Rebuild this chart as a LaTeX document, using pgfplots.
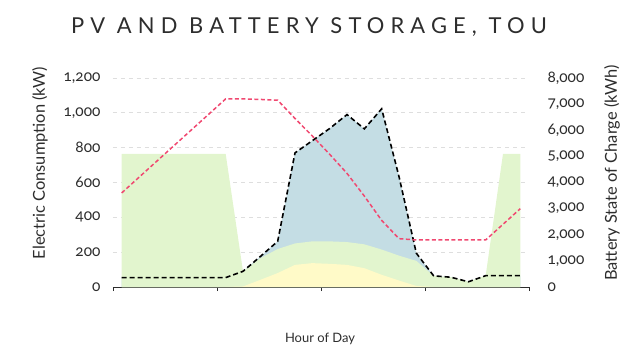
\documentclass[border=0pt]{standalone}
\usepackage{fontspec}
\setmainfont{Lato}[Numbers=OldStyle]
\newfontfamily\titlefont[LetterSpace=28]{Lato}
\usepackage{pgfplots}
\usepackage{pgfplotstable}
\pgfplotsset{compat=1.18}
\definecolor{cgreen}{RGB}{226,245,206}
\definecolor{cblue}{RGB}{196,221,228}
\definecolor{cyellow}{RGB}{255,250,200}
\definecolor{cred}{RGB}{240,72,112}
\definecolor{cgrid}{RGB}{222,222,222}
\definecolor{ctext}{RGB}{45,45,45}
\pgfplotstableread{
hour cons green yellow soc
0 54 765 0 3600
1 54 765 0 4200
2 54 765 0 4800
3 54 765 0 5400
4 54 765 0 6000
5 54 765 0 6600
6 54 765 0 7200
7 90 90 3 7200
8 175 165 41 7180
9 262 218 80 7150
10 770 250 127 6450
11 840 262 137 5780
12 910 262 133 5080
13 990 258 127 4350
14 908 245 108 3480
15 1023 215 70 2550
16 634 180 37 1850
17 194 150 6 1800
18 64 64 0 1800
19 56 56 0 1800
20 30 30 0 1800
21 65 65 0 1800
22 65 765 0 2400
23 65 765 0 3000
}\datatable
\begin{document}
\begin{tikzpicture}
\path[use as bounding box] (-113bp,-68bp) rectangle (527bp,287bp);
\begin{axis}[
  at={(0,0)}, anchor=south west,
  scale only axis, width=416bp, height=209bp,
  xmin=-0.5, xmax=23.5, ymin=0, ymax=1200,
  axis x line*=bottom, axis y line*=left,
  y axis line style={draw=none},
  x axis line style={draw=ctext, line width=0.8pt, -},
  xtick={-0.5,5.5,11.5,17.5,23.5}, xticklabels={},
  tick align=outside, major tick length=4bp,
  xtick style={draw=ctext, line width=0.8pt},
  ytick={0,200,...,1200}, ytick style={draw=none},
  ymajorgrids, grid style={cgrid, dashed, dash pattern=on 4bp off 4bp, line width=0.8pt},
  /pgf/number format/assume math mode=true,
  yticklabel style={font=\fontsize{15.5}{16}\selectfont, text=ctext, xshift=-5bp},
  clip=false,
]
\addplot[fill=cblue, draw=none] table[x=hour, y=cons] {\datatable} \closedcycle;
\addplot[fill=cgreen, draw=none] table[x=hour, y=green] {\datatable} \closedcycle;
\addplot[fill=cyellow, draw=none] table[x=hour, y=yellow] {\datatable} \closedcycle;
\addplot[black, line width=1.6bp, dash pattern=on 5bp off 3bp] table[x=hour, y=cons] {\datatable};
\end{axis}
\begin{axis}[
  at={(0,0)}, anchor=south west,
  scale only axis, width=416bp, height=209bp,
  xmin=-0.5, xmax=23.5, ymin=0, ymax=8000,
  axis x line=none, axis y line*=right,
  y axis line style={draw=none},
  ytick={0,1000,...,8000}, ytick style={draw=none},
  /pgf/number format/assume math mode=true,
  yticklabel style={font=\fontsize{15.5}{16}\selectfont, text=ctext, xshift=15bp},
  clip=false,
]
\addplot[cred, line width=1.5bp, dash pattern=on 4bp off 2.5bp] table[x=hour, y=soc] {\datatable};
\end{axis}
\node[font=\titlefont\fontsize{22}{24}\selectfont, text=ctext] at (196bp,260bp) {PV AND BATTERY STORAGE, TOU};
\node[font=\fontsize{13}{15}\selectfont, text=ctext] at (207bp,-52bp) {Hour of Day};
\node[font=\fontsize{16.5}{18}\selectfont, text=ctext, rotate=90] at (-73bp,124bp) {Electric Consumption (kW)};
\node[font=\fontsize{16.5}{18}\selectfont, text=ctext, rotate=90] at (499bp,114bp) {Battery State of Charge (kWh)};
\end{tikzpicture}
\end{document}
